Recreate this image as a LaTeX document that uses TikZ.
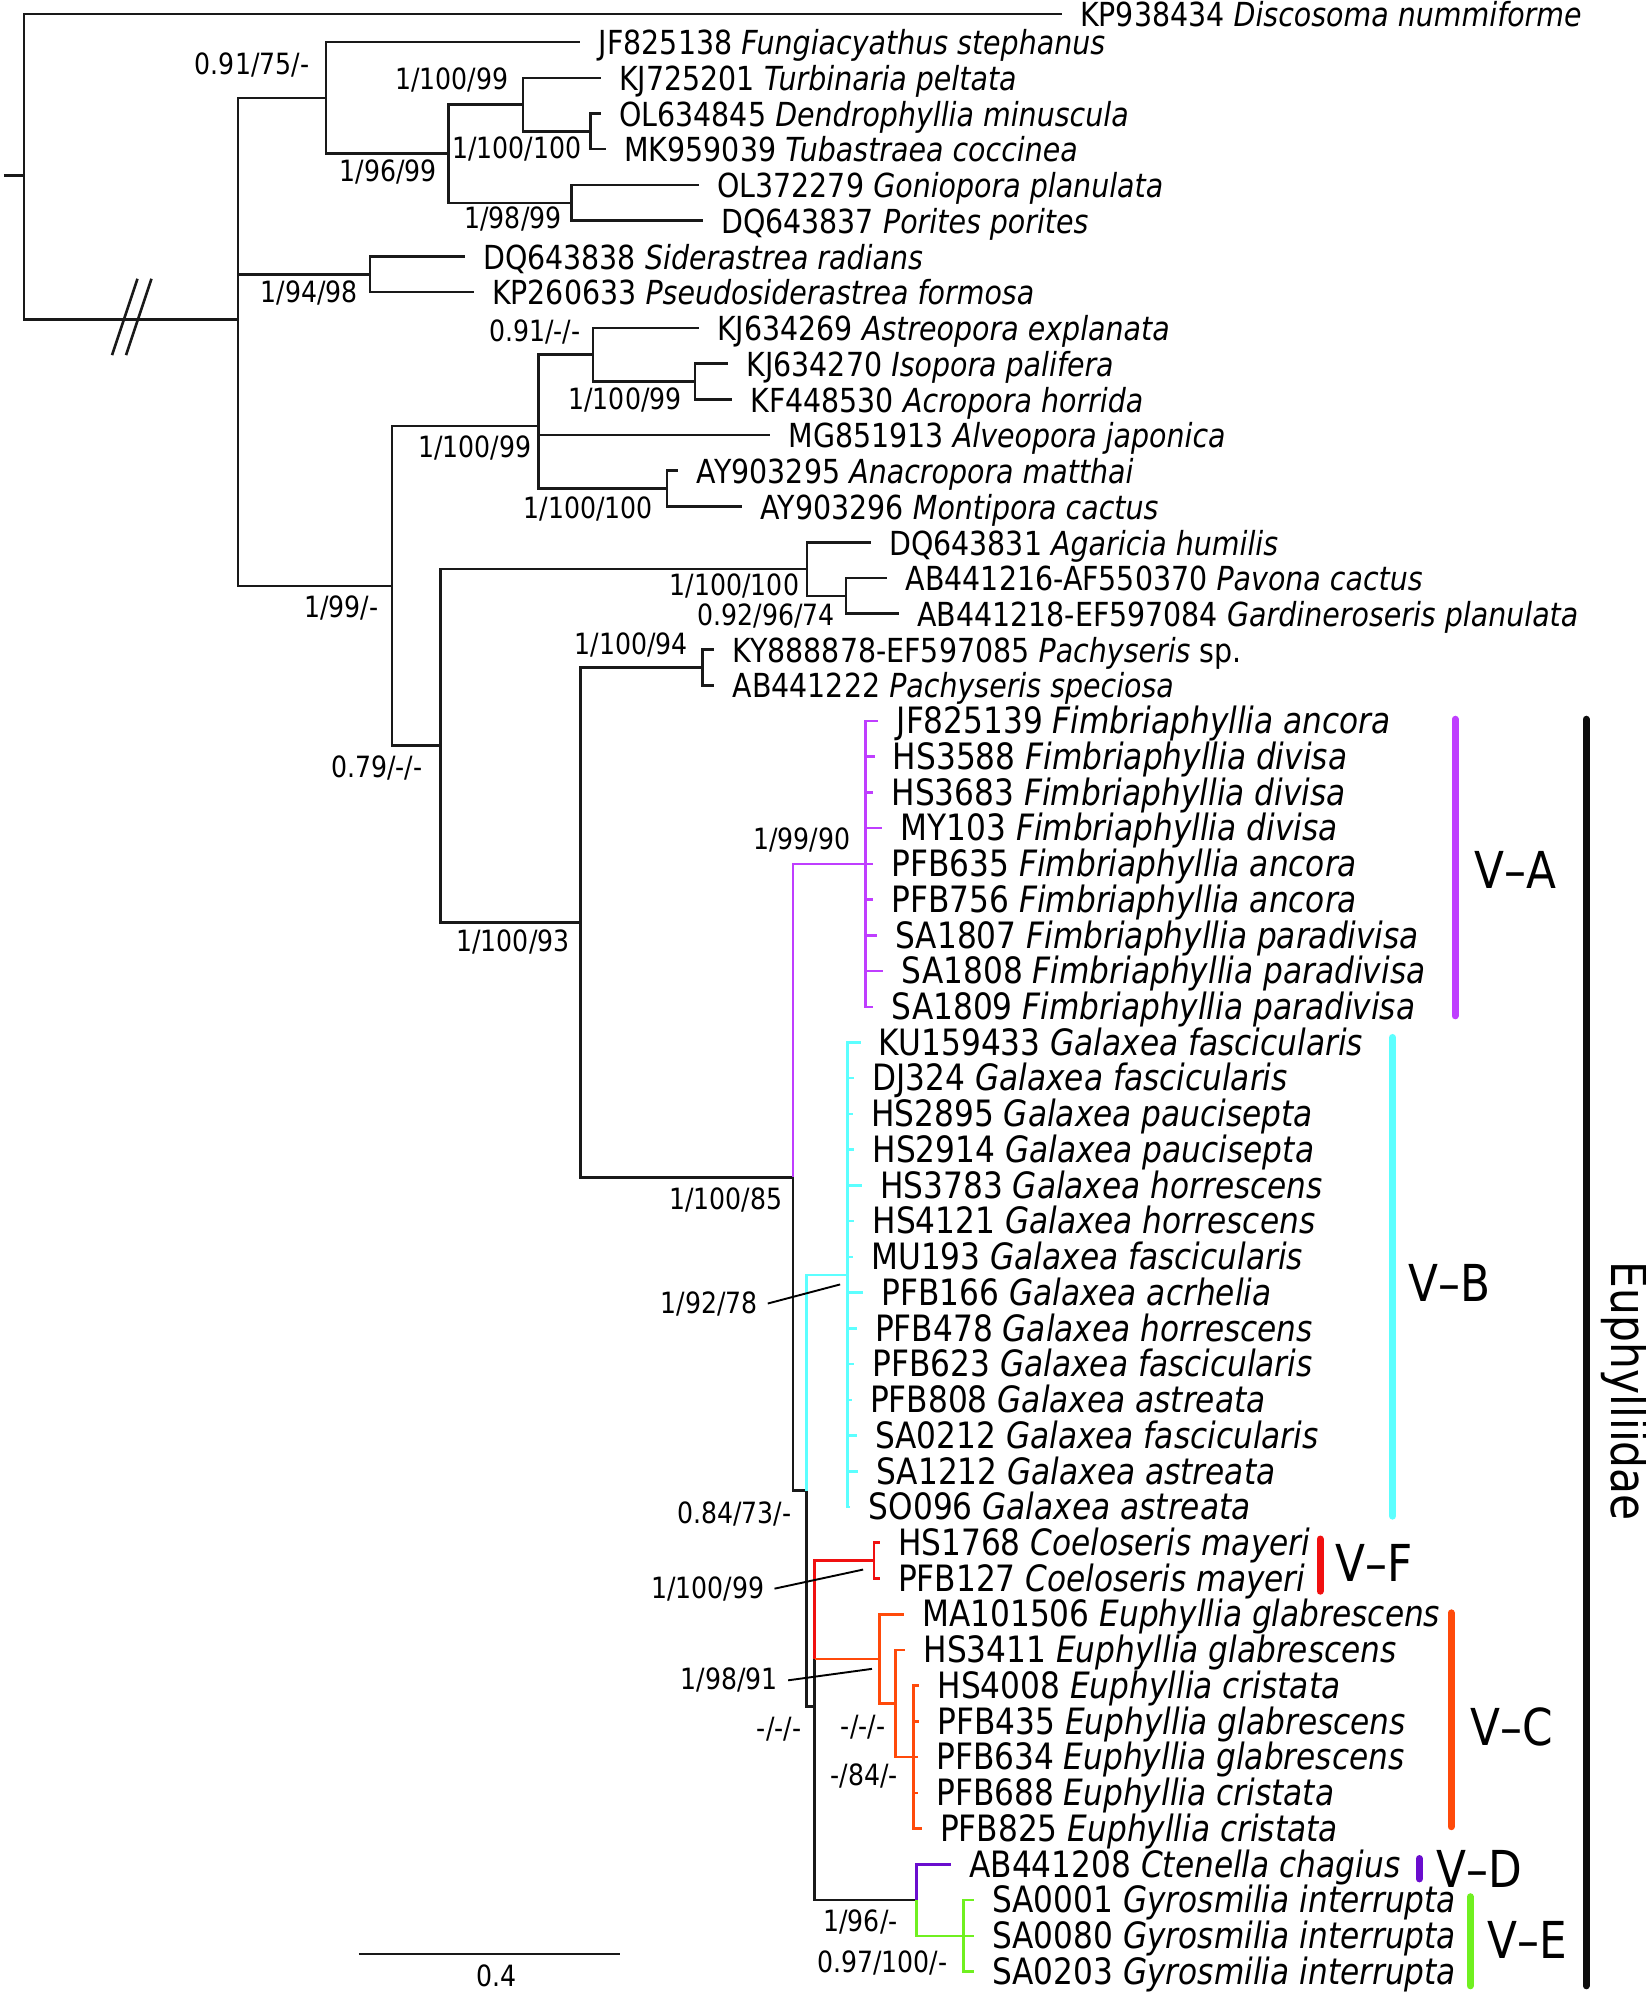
\documentclass[tikz,border=0pt]{standalone}
\usepackage{fontspec}
\setmainfont{DejaVu Sans}[FakeStretch=0.86]
\definecolor{cladeA}{HTML}{BF3EFF}
\definecolor{cladeB}{HTML}{5CFFFF}
\definecolor{cladeF}{HTML}{F01010}
\definecolor{cladeC}{HTML}{FF4A0A}
\definecolor{cladeD}{HTML}{6A0DCE}
\definecolor{cladeE}{HTML}{70F020}

\begin{document}
\begin{tikzpicture}[
  x=0.4pt, y=-0.4pt,
  font=\fontsize{10.4}{12}\selectfont,
  br/.style={draw=black!90, line width=0.8pt},
  tip/.style={anchor=west, inner xsep=5.6pt, inner ysep=0pt, text height=0.8em, text depth=0pt},
  tipbig/.style={tip, font=\fontsize{11.4}{13}\selectfont},
  sup/.style={inner sep=0pt, font=\fontsize{9.2}{10}\selectfont},
  lead/.style={draw=black, line width=0.6pt},
  bar/.style={line width=2.2pt, line cap=round},
  clab/.style={anchor=west, inner sep=0pt, font=\fontsize{16}{18}\selectfont}
]
\useasboundingbox (0,0) rectangle (1293,1568);

\coordinate (stub) at (3,138);
\coordinate (root) at (19,138);
\coordinate (nA) at (187,250.9);
\coordinate (nB) at (256,76.9);
\coordinate (nC) at (352.5,120.7);
\coordinate (nD) at (411,82.1);
\coordinate (nE) at (464,103.2);
\coordinate (nF) at (449,159.4);
\coordinate (nG) at (290.5,215.5);
\coordinate (nH) at (308,460.3);
\coordinate (nI) at (423,334.8);
\coordinate (nJ) at (466,278.6);
\coordinate (nK) at (546,299.7);
\coordinate (nM) at (524,383.9);
\coordinate (nL) at (346,585.8);
\coordinate (nN) at (634,447.1);
\coordinate (nP) at (664.5,468.1);
\coordinate (nO) at (456,724.5);
\coordinate (nQ) at (552,524.3);
\coordinate (nR) at (623,924.8);
\coordinate (nS) at (633.6,1171);
\coordinate (nT) at (640,1340.6);
\coordinate (nVA) at (680,678.6);
\coordinate (nVB) at (665.7,1001.5);
\coordinate (nVF) at (686.6,1226);
\coordinate (nV1) at (691,1303.2);
\coordinate (nV2) at (703.4,1338.3);
\coordinate (nV3) at (717.6,1380.4);
\coordinate (nW) at (720,1492.7);
\coordinate (nVE) at (757,1520.7);

\node[tip] (kp938434) at (834,11) {KP938434 \textit{Discosoma nummiforme}};
\node[tip] (jf825138) at (456,33) {JF825138 \textit{Fungiacyathus stephanus}};
\node[tip] (kj725201) at (472,61.1) {KJ725201 \textit{Turbinaria peltata}};
\node[tip] (ol634845) at (472,89.1) {OL634845 \textit{Dendrophyllia minuscula}};
\node[tip] (mk959039) at (476,117.2) {MK959039 \textit{Tubastraea coccinea}};
\node[tip] (ol372279) at (549,145.3) {OL372279 \textit{Goniopora planulata}};
\node[tip] (dq643837) at (552,173.4) {DQ643837 \textit{Porites porites}};
\node[tip] (dq643838) at (365,201.4) {DQ643838 \textit{Siderastrea radians}};
\node[tip] (kp260633) at (372,229.5) {KP260633 \textit{Pseudosiderastrea formosa}};
\node[tip] (kj634269) at (549,257.6) {KJ634269 \textit{Astreopora explanata}};
\node[tip] (kj634270) at (572,285.6) {KJ634270 \textit{Isopora palifera}};
\node[tip] (kf448530) at (575,313.7) {KF448530 \textit{Acropora horrida}};
\node[tip] (mg851913) at (605,341.8) {MG851913 \textit{Alveopora japonica}};
\node[tip] (ay903295) at (533,369.8) {AY903295 \textit{Anacropora matthai}};
\node[tip] (ay903296) at (583,397.9) {AY903296 \textit{Montipora cactus}};
\node[tip] (dq643831) at (684,426) {DQ643831 \textit{Agaricia humilis}};
\node[tip] (ab441216) at (697,454.1) {AB441216-AF550370 \textit{Pavona cactus}};
\node[tip] (ab441218) at (706,482.1) {AB441218-EF597084 \textit{Gardineroseris planulata}};
\node[tip] (ky888878) at (561,510.2) {KY888878-EF597085 \textit{Pachyseris} sp.};
\node[tip] (ab441222) at (561,538.3) {AB441222 \textit{Pachyseris speciosa}};

\node[tipbig] (jf825139) at (690,566.3) {JF825139 \textit{Fimbriaphyllia ancora}};
\node[tipbig] (hs3588) at (687,594.4) {HS3588 \textit{Fimbriaphyllia divisa}};
\node[tipbig] (hs3683) at (686,622.5) {HS3683 \textit{Fimbriaphyllia divisa}};
\node[tipbig] (my103) at (693,650.5) {MY103 \textit{Fimbriaphyllia divisa}};
\node[tipbig] (pfb635) at (686,678.6) {PFB635 \textit{Fimbriaphyllia ancora}};
\node[tipbig] (pfb756) at (686,706.7) {PFB756 \textit{Fimbriaphyllia ancora}};
\node[tipbig] (sa1807) at (689,734.8) {SA1807 \textit{Fimbriaphyllia paradivisa}};
\node[tipbig] (sa1808) at (694,762.8) {SA1808 \textit{Fimbriaphyllia paradivisa}};
\node[tipbig] (sa1809) at (686,790.9) {SA1809 \textit{Fimbriaphyllia paradivisa}};

\node[tipbig] (ku159433) at (676,819) {KU159433 \textit{Galaxea fascicularis}};
\node[tipbig] (dj324) at (671,847) {DJ324 \textit{Galaxea fascicularis}};
\node[tipbig] (hs2895) at (670,875.1) {HS2895 \textit{Galaxea paucisepta}};
\node[tipbig] (hs2914) at (671,903.2) {HS2914 \textit{Galaxea paucisepta}};
\node[tipbig] (hs3783) at (677,931.2) {HS3783 \textit{Galaxea horrescens}};
\node[tipbig] (hs4121) at (671,959.3) {HS4121 \textit{Galaxea horrescens}};
\node[tipbig] (mu193) at (670,987.4) {MU193 \textit{Galaxea fascicularis}};
\node[tipbig] (pfb166) at (678,1015.5) {PFB166 \textit{Galaxea acrhelia}};
\node[tipbig] (pfb478) at (673,1043.5) {PFB478 \textit{Galaxea horrescens}};
\node[tipbig] (pfb623) at (671,1071.6) {PFB623 \textit{Galaxea fascicularis}};
\node[tipbig] (pfb808) at (669,1099.7) {PFB808 \textit{Galaxea astreata}};
\node[tipbig] (sa0212) at (673,1127.7) {SA0212 \textit{Galaxea fascicularis}};
\node[tipbig] (sa1212) at (674,1155.8) {SA1212 \textit{Galaxea astreata}};
\node[tipbig] (so096) at (668,1183.9) {SO096 \textit{Galaxea astreata}};

\node[tipbig] (hs1768) at (691,1211.9) {HS1768 \textit{Coeloseris mayeri}};
\node[tipbig] (pfb127) at (691,1240) {PFB127 \textit{Coeloseris mayeri}};

\node[tipbig] (ma101506) at (710,1268.1) {MA101506 \textit{Euphyllia glabrescens}};
\node[tipbig] (hs3411) at (711,1296.2) {HS3411 \textit{Euphyllia glabrescens}};
\node[tipbig] (hs4008) at (722,1324.2) {HS4008 \textit{Euphyllia cristata}};
\node[tipbig] (pfb435) at (722,1352.3) {PFB435 \textit{Euphyllia glabrescens}};
\node[tipbig] (pfb634) at (721,1380.4) {PFB634 \textit{Euphyllia glabrescens}};
\node[tipbig] (pfb688) at (721,1408.4) {PFB688 \textit{Euphyllia cristata}};
\node[tipbig] (pfb825) at (724,1436.5) {PFB825 \textit{Euphyllia cristata}};

\node[tipbig] (ab441208) at (747,1464.6) {AB441208 \textit{Ctenella chagius}};
\node[tipbig] (sa0001) at (765,1492.6) {SA0001 \textit{Gyrosmilia interrupta}};
\node[tipbig] (sa0080) at (765,1520.7) {SA0080 \textit{Gyrosmilia interrupta}};
\node[tipbig] (sa0203) at (765,1548.8) {SA0203 \textit{Gyrosmilia interrupta}};

\draw[br] (stub) -- (root);
\draw[br] (root) |- (kp938434.west);
\draw[br] (root) |- (nA);
\draw[br] (nA) |- (nB);
\draw[br] (nA) |- (nG);
\draw[br] (nA) |- (nH);
\draw[br] (nB) |- (jf825138.west);
\draw[br] (nB) |- (nC);
\draw[br] (nC) |- (nD);
\draw[br] (nC) |- (nF);
\draw[br] (nD) |- (kj725201.west);
\draw[br] (nD) |- (nE);
\draw[br] (nE) |- (ol634845.west);
\draw[br] (nE) |- (mk959039.west);
\draw[br] (nF) |- (ol372279.west);
\draw[br] (nF) |- (dq643837.west);
\draw[br] (nG) |- (dq643838.west);
\draw[br] (nG) |- (kp260633.west);
\draw[br] (nH) |- (nI);
\draw[br] (nH) |- (nL);
\draw[br] (nI) |- (nJ);
\draw[br] (nI) |- (mg851913.west);
\draw[br] (nI) |- (nM);
\draw[br] (nJ) |- (kj634269.west);
\draw[br] (nJ) |- (nK);
\draw[br] (nK) |- (kj634270.west);
\draw[br] (nK) |- (kf448530.west);
\draw[br] (nM) |- (ay903295.west);
\draw[br] (nM) |- (ay903296.west);
\draw[br] (nL) |- (nN);
\draw[br] (nL) |- (nO);
\draw[br] (nN) |- (dq643831.west);
\draw[br] (nN) |- (nP);
\draw[br] (nP) |- (ab441216.west);
\draw[br] (nP) |- (ab441218.west);
\draw[br] (nO) |- (nQ);
\draw[br] (nO) |- (nR);
\draw[br] (nQ) |- (ky888878.west);
\draw[br] (nQ) |- (ab441222.west);

\draw[br] (104,249) ++(-16,30) -- ++(20,-60);
\draw[br] (104,249) ++(-5,30) -- ++(20,-60);

\draw[br, draw=cladeA] (nR) |- (nVA);
\draw[br] (nR) |- (nS);
\draw[br, draw=cladeA] (nVA) |- (jf825139.west);
\draw[br, draw=cladeA] (nVA) |- (hs3588.west);
\draw[br, draw=cladeA] (nVA) |- (hs3683.west);
\draw[br, draw=cladeA] (nVA) |- (my103.west);
\draw[br, draw=cladeA] (nVA) |- (pfb635.west);
\draw[br, draw=cladeA] (nVA) |- (pfb756.west);
\draw[br, draw=cladeA] (nVA) |- (sa1807.west);
\draw[br, draw=cladeA] (nVA) |- (sa1808.west);
\draw[br, draw=cladeA] (nVA) |- (sa1809.west);

\draw[br, draw=cladeB] (nS) |- (nVB);
\draw[br] (nS) |- (nT);
\draw[br, draw=cladeB] (nVB) |- (ku159433.west);
\draw[br, draw=cladeB] (nVB) |- (dj324.west);
\draw[br, draw=cladeB] (nVB) |- (hs2895.west);
\draw[br, draw=cladeB] (nVB) |- (hs2914.west);
\draw[br, draw=cladeB] (nVB) |- (hs3783.west);
\draw[br, draw=cladeB] (nVB) |- (hs4121.west);
\draw[br, draw=cladeB] (nVB) |- (mu193.west);
\draw[br, draw=cladeB] (nVB) |- (pfb166.west);
\draw[br, draw=cladeB] (nVB) |- (pfb478.west);
\draw[br, draw=cladeB] (nVB) |- (pfb623.west);
\draw[br, draw=cladeB] (nVB) |- (pfb808.west);
\draw[br, draw=cladeB] (nVB) |- (sa0212.west);
\draw[br, draw=cladeB] (nVB) |- (sa1212.west);
\draw[br, draw=cladeB] (nVB) |- (so096.west);

\draw[br, draw=cladeF] (nT |- nV1) |- (nVF);
\draw[br, draw=cladeF] (nVF) |- (hs1768.west);
\draw[br, draw=cladeF] (nVF) |- (pfb127.west);
\draw[br] (nT |- nV1) |- (nW);

\draw[br, draw=cladeC] (nT |- nV1) -- (nV1);
\draw[br, draw=cladeC] (nV1) |- (ma101506.west);
\draw[br, draw=cladeC] (nV1) |- (nV2);
\draw[br, draw=cladeC] (nV2) |- (hs3411.west);
\draw[br, draw=cladeC] (nV2) |- (nV3);
\draw[br, draw=cladeC] (nV3) |- (hs4008.west);
\draw[br, draw=cladeC] (nV3) |- (pfb435.west);
\draw[br, draw=cladeC] (nV3) |- (pfb634.west);
\draw[br, draw=cladeC] (nV3) |- (pfb688.west);
\draw[br, draw=cladeC] (nV3) |- (pfb825.west);

\draw[br, draw=cladeD] (nW) |- (ab441208.west);
\draw[br, draw=cladeE] (nW) |- (nVE);
\draw[br, draw=cladeE] (nVE) |- (sa0001.west);
\draw[br, draw=cladeE] (nVE) |- (sa0080.west);
\draw[br, draw=cladeE] (nVE) |- (sa0203.west);

\node[sup] (sB) at (198,51) {0.91/75/-};
\node[sup] (sD) at (355,63) {1/100/99};
\node[sup] (sE) at (406,117) {1/100/100};
\node[sup] (sC) at (305,135) {1/96/99};
\node[sup] (sF) at (403,172) {1/98/99};
\node[sup] (sG) at (243,230) {1/94/98};
\node[sup] (sJ) at (420,261) {0.91/-/-};
\node[sup] (sK) at (491,314) {1/100/99};
\node[sup] (sI) at (373,352) {1/100/99};
\node[sup] (sM) at (462,400) {1/100/100};
\node[sup] (sN) at (577,460) {1/100/100};
\node[sup] (sP) at (602,484) {0.92/96/74};
\node[sup] (sH) at (268,478) {1/99/-};
\node[sup] (sQ) at (496,507) {1/100/94};
\node[sup] (sL) at (296,603) {0.79/-/-};
\node[sup] (sVA) at (630,660) {1/99/90};
\node[sup] (sO) at (403,740) {1/100/93};
\node[sup] (sR) at (570,943) {1/100/85};
\node[sup] (sVB) at (557,1024) {1/92/78};
\node[sup] (sS) at (577,1189) {0.84/73/-};
\node[sup] (sVF) at (556,1248) {1/100/99};
\node[sup] (sV1) at (573,1320) {1/98/91};
\node[sup] (sT) at (612,1358) {-/-/-};
\node[sup] (sV2) at (678,1357) {-/-/-};
\node[sup] (sV3) at (679,1395) {-/84/-};
\node[sup] (sW) at (676,1510) {1/96/-};
\node[sup] (sVE) at (693,1542) {0.97/100/-};

\coordinate (pVB) at (660,1009);
\coordinate (pVF) at (678,1233);
\coordinate (pV1) at (685,1311);
\draw[lead] ([xshift=3pt]sVB.east) -- (pVB);
\draw[lead] ([xshift=3pt]sVF.east) -- (pVF);
\draw[lead] ([xshift=3pt]sV1.east) -- (pV1);

\draw[bar, cladeA] (1143,565) coordinate (aTop) -- (1143,798) coordinate (aBot);
\node[clab] (labA) at (1158,683) {V–A};
\draw[bar, cladeB] (1094,815) coordinate (bTop) -- (1094,1191) coordinate (bBot);
\node[clab] (labB) at (1106,1008) {V–B};
\draw[bar, cladeF] (1037,1209) coordinate (fTop) -- (1037,1250) coordinate (fBot);
\node[clab] (labF) at (1049,1228) {V–F};
\draw[bar, cladeC] (1140,1267) coordinate (cTop) -- (1140,1435) coordinate (cBot);
\node[clab] (labC) at (1155,1357) {V–C};
\draw[bar, cladeD] (1115,1460) coordinate (dTop) -- (1115,1476) coordinate (dBot);
\node[clab] (labD) at (1128,1468) {V–D};
\draw[bar, cladeE] (1155,1490) coordinate (eTop) -- (1155,1560) coordinate (eBot);
\node[clab] (labE) at (1168,1524) {V–E};
\draw[bar, black!95] (1246,565) coordinate (euTop) -- (1246,1560) coordinate (euBot);
\node[inner sep=0pt, rotate=-90, font=\fontsize{15.5}{18}\selectfont] (labEu) at (1277,1093) {Euphylliidae};

\coordinate (sbL) at (282,1535);
\coordinate (sbR) at (487,1535);
\draw[br] (sbL) -- (sbR);
\node[sup] (sbLab) at (390,1552) {0.4};

\end{tikzpicture}
\end{document}
